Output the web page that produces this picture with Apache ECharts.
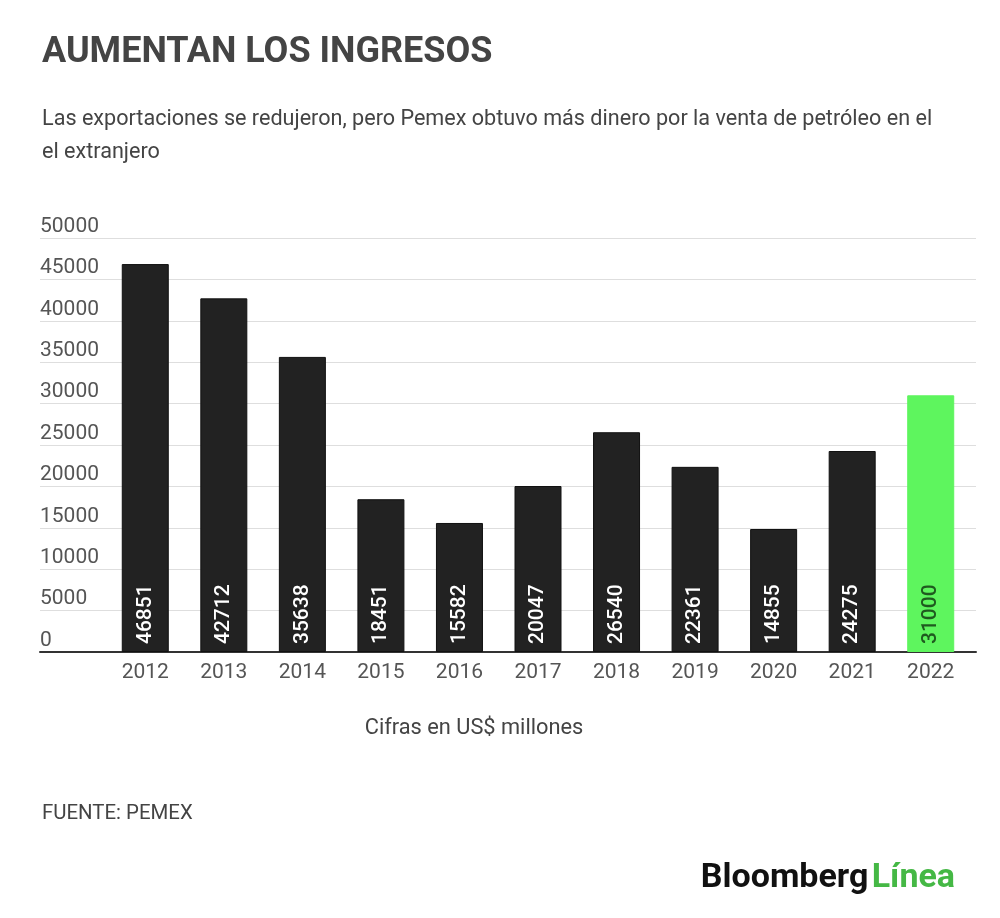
<!DOCTYPE html>
<html>
<head>
<meta charset="utf-8">
<script src="https://cdn.jsdelivr.net/npm/echarts@6/dist/echarts.min.js"></script>
<style>
  html, body { margin: 0; padding: 0; background: #fff; }
  #chart { width: 1000px; height: 918px; }
</style>
</head>
<body>
<div id="chart"></div>
<script>
// Pemex: ingresos por exportación de petróleo
var years = ['2012', '2013', '2014', '2015', '2016', '2017', '2018', '2019', '2020', '2021', '2022'];
var ingresos = [46851, 42712, 35638, 18451, 15582, 20047, 26540, 22361, 14855, 24275, 31000];
var highlightYear = '2022';
var yMin = 0;
var yMax = 50000;
var yStep = 5000;

(function () {
  var font = 'Roboto, "Noto Sans", sans-serif';
  var ink = '#444';
  var muted = '#555';
  var rule = '#dedede';
  var barColor = '#222';
  var green = '#5ef55e';

  var chart = echarts.init(document.getElementById('chart'));

  var barData = ingresos.map(function (v, i) {
    var hl = years[i] === highlightYear;
    return {
      value: v,
      itemStyle: hl ? { color: green, borderColor: green } : { color: barColor, borderColor: '#111' },
      label: { color: hl ? '#1f5a1f' : '#fff' }
    };
  });

  chart.setOption({
    animation: false,
    textStyle: { fontFamily: font },
    // full-width grid carries gridlines + labels, inner grid carries the bars
    grid: [
      { left: 40, right: 24, top: 238, bottom: 266 },
      { left: 106, right: 30, top: 238, bottom: 266 }
    ],
    xAxis: [
      {
        gridIndex: 0, type: 'value', min: 0, max: 1,
        axisLine: { show: true, onZero: false, lineStyle: { color: '#333', width: 2 } },
        axisTick: { show: false }, axisLabel: { show: false }, splitLine: { show: false }
      },
      {
        gridIndex: 1, type: 'category', data: years,
        axisLine: { show: false }, axisTick: { show: false },
        axisLabel: { color: muted, fontSize: 21, margin: 10, fontFamily: font }
      }
    ],
    yAxis: [
      {
        gridIndex: 0, type: 'value', min: yMin, max: yMax, interval: yStep,
        axisLine: { show: false }, axisTick: { show: false },
        axisLabel: {
          inside: true, margin: 0, align: 'left', verticalAlign: 'bottom',
          padding: [0, 0, 1, 0], color: muted, fontSize: 21, fontFamily: font,
          formatter: function (v) { return String(v); }
        },
        splitLine: { lineStyle: { color: rule, width: 1 } }
      },
      {
        gridIndex: 1, type: 'value', min: yMin, max: yMax, interval: yStep, show: false
      }
    ],
    series: [{
      type: 'bar',
      xAxisIndex: 1,
      yAxisIndex: 1,
      barWidth: 47,
      z: 3,
      itemStyle: { borderWidth: 1 },
      label: {
        show: true,
        position: 'insideBottom',
        rotate: 90,
        align: 'left',
        verticalAlign: 'middle',
        distance: 8,
        fontSize: 21,
        fontWeight: 500,
        fontFamily: font
      },
      data: barData
    }],
    graphic: [
      {
        type: 'text', left: 42, top: 35,
        style: { text: 'AUMENTAN LOS INGRESOS', fill: ink, font: 'bold 36px ' + font }
      },
      {
        type: 'text', left: 42, top: 103,
        style: {
          text: 'Las exportaciones se redujeron, pero Pemex obtuvo más dinero por la venta de petróleo en el\nel extranjero',
          fill: ink, font: '21.6px ' + font, lineHeight: 33
        }
      },
      {
        type: 'text', x: 474, y: 729,
        style: { text: 'Cifras en US$ millones', fill: ink, font: '21.8px ' + font, textAlign: 'center', textVerticalAlign: 'middle' }
      },
      {
        type: 'text', left: 42, top: 804,
        style: { text: 'FUENTE: PEMEX', fill: ink, font: '20.4px ' + font }
      },
      {
        type: 'text', right: 45, top: 861,
        style: {
          text: '{b|Bloomberg} {l|Línea}',
          rich: {
            b: { fill: '#111', font: 'bold 34px ' + font },
            l: { fill: '#45b845', font: 'bold 34px ' + font }
          }
        }
      }
    ]
  });
  window.addEventListener('resize', function () { chart.resize(); });
})();
</script>
</body>
</html>
